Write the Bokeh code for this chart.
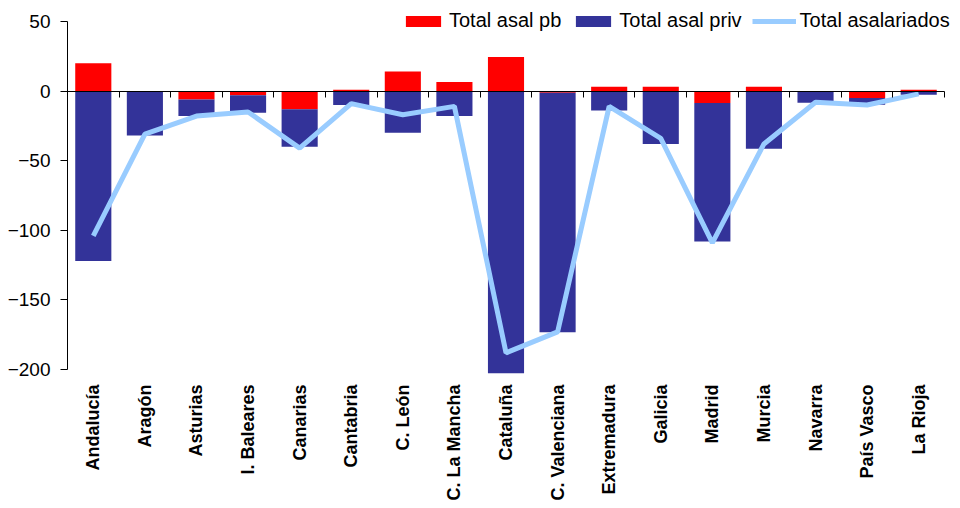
import numpy as np
from bokeh.plotting import figure
from bokeh.models import (Range1d, FixedTicker, LinearAxis, Legend,
                          LegendItem, ColumnDataSource)
from bokeh.embed import file_html
from bokeh.resources import INLINE

regions = ["Andalucía", "Aragón", "Asturias", "I. Baleares", "Canarias", "Cantabria",
           "C. León", "C. La Mancha", "Cataluña", "C. Valenciana", "Extremadura",
           "Galicia", "Madrid", "Murcia", "Navarra", "País Vasco", "La Rioja"]
asal_pb = [20, 0, -6, -3, -13, 1, 14, 6.5, 24.5, -1.2, 3, 3, -8.6, 3, 0, -5, 1]
asal_priv = [-122, -32, -12, -12.6, -27, -10, -30, -18, -202.6, -172, -14, -38,
             -99.4, -41.5, -8.4, -4.8, -2.6]
asal_total = [-104, -31, -18, -15, -41, -9, -17, -11, -188, -173, -11, -34, -109,
              -38, -8, -10, -2]
y_ticks = [-200, -150, -100, -50, 0, 50]

n = len(regions)
xc = np.arange(n) + 0.5
pb = np.array(asal_pb, dtype=float)
priv = np.array(asal_priv, dtype=float)
priv_base = np.minimum(pb, 0)
src = ColumnDataSource(dict(
    x=xc,
    pb_top=pb, pb_bot=np.zeros_like(pb),
    priv_top=priv_base, priv_bot=priv_base + priv,
    total=asal_total,
))

FONT = "Liberation Sans"

# frame spans 67..960 px horizontally (categories occupy 67..944)
x_end = n * (960 - 67) / (944 - 67)

p = figure(width=960, height=508, output_backend="svg", toolbar_location=None,
           x_range=Range1d(0, x_end), y_range=Range1d(-205, 60),
           min_border_left=67, min_border_right=0, min_border_top=7,
           min_border_bottom=132)
p.outline_line_color = None
p.xgrid.grid_line_color = None
p.ygrid.grid_line_color = None
p.background_fill_color = "white"
p.border_fill_color = "white"

r_pb = p.vbar(x="x", top="pb_top", bottom="pb_bot", width=0.7, source=src,
              fill_color="#FF0000", line_color=None)
r_priv = p.vbar(x="x", top="priv_top", bottom="priv_bot", width=0.7, source=src,
                fill_color="#333399", line_color=None)
r_tot = p.line(x="x", y="total", source=src, line_color="#99CCFF", line_width=5)

# y axis
ya = p.yaxis[0]
ya.ticker = FixedTicker(ticks=y_ticks)
ya.bounds = (-200, 50)
ya.major_tick_out = 7
ya.major_tick_in = 0
ya.minor_tick_line_color = None
ya.axis_line_color = "black"
ya.major_tick_line_color = "black"
ya.major_label_text_font = FONT
ya.major_label_text_font_size = "19px"
ya.major_label_text_color = "black"
ya.major_label_standoff = 10

# category labels at the bottom
xa = p.xaxis[0]
xa.ticker = FixedTicker(ticks=list(xc))
xa.major_label_overrides = {float(v): name for v, name in zip(xc, regions)}
xa.axis_line_color = None
xa.major_tick_line_color = None
xa.minor_tick_line_color = None
xa.major_label_orientation = np.pi / 2
xa.major_label_text_font = FONT
xa.major_label_text_font_style = "bold"
xa.major_label_text_font_size = "18px"
xa.major_label_text_color = "black"
xa.major_label_standoff = 2

# zero line with category boundary ticks
za = LinearAxis(fixed_location=0, ticker=FixedTicker(ticks=list(range(n + 1))),
                bounds=(0, n))
za.major_tick_out = 6
za.major_tick_in = 0
za.minor_tick_line_color = None
za.axis_line_color = "black"
za.major_tick_line_color = "black"
za.major_label_text_font_size = "0px"
za.major_label_text_alpha = 0
p.add_layout(za, "below")

legend = Legend(items=[
    LegendItem(label="Total asal pb", renderers=[r_pb]),
    LegendItem(label="Total asal priv", renderers=[r_priv]),
    LegendItem(label="Total asalariados", renderers=[r_tot]),
], orientation="horizontal", location=(334, 344))
legend.glyph_width = 44
legend.glyph_height = 14
legend.label_height = 20
legend.label_standoff = 4
legend.spacing = 10
legend.padding = 0
legend.margin = 0
legend.border_line_color = None
legend.background_fill_alpha = 0
legend.label_text_font = FONT
legend.label_text_font_size = "20px"
legend.label_text_color = "black"
p.add_layout(legend, "center")

open("out.html", "w").write(file_html(p, INLINE))
